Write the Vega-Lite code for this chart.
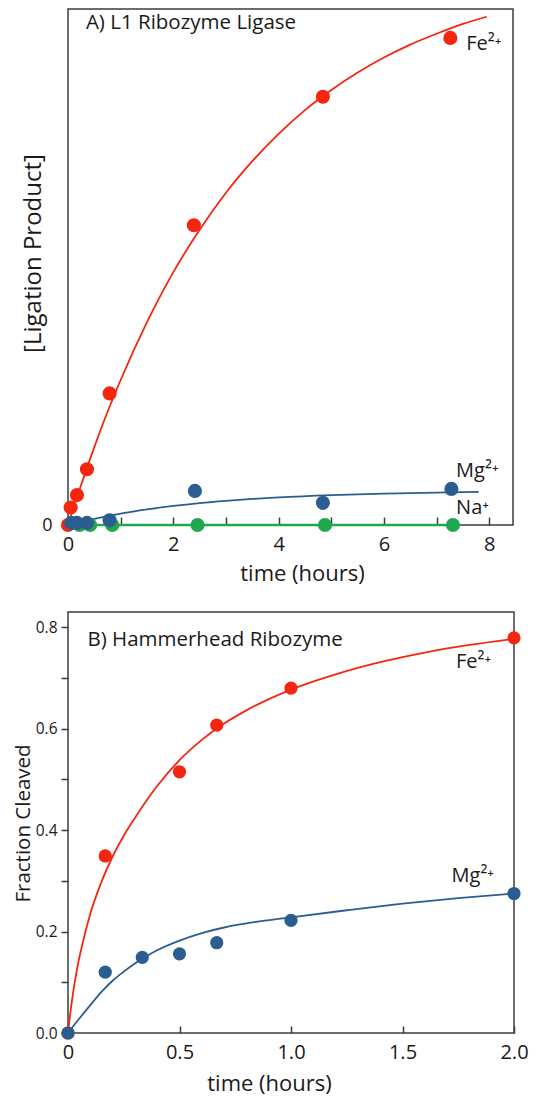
{
  "$schema": "https://vega.github.io/schema/vega-lite/v6.json",
  "padding": {"left": 12, "top": 8, "right": 0, "bottom": 0},
  "bounds": "flush",
  "spacing": 87,
  "datasets": {
    "top_pts": [
      {"t": 0.22, "v": 0, "ion": "Na"}, {"t": 0.42, "v": 0, "ion": "Na"}, {"t": 0.84, "v": 0, "ion": "Na"},
      {"t": 2.46, "v": 0, "ion": "Na"}, {"t": 4.88, "v": 0, "ion": "Na"}, {"t": 7.31, "v": 0, "ion": "Na"},
      {"t": 0, "v": 0, "ion": "Fe"}, {"t": 0.05, "v": 0.034, "ion": "Fe"}, {"t": 0.17, "v": 0.058, "ion": "Fe"},
      {"t": 0.36, "v": 0.108, "ion": "Fe"}, {"t": 0.79, "v": 0.255, "ion": "Fe"}, {"t": 2.39, "v": 0.581, "ion": "Fe"},
      {"t": 4.84, "v": 0.83, "ion": "Fe"}, {"t": 7.26, "v": 0.944, "ion": "Fe"},
      {"t": 0.06, "v": 0.004, "ion": "Mg"}, {"t": 0.17, "v": 0.004, "ion": "Mg"}, {"t": 0.36, "v": 0.004, "ion": "Mg"},
      {"t": 0.79, "v": 0.009, "ion": "Mg"}, {"t": 2.41, "v": 0.066, "ion": "Mg"}, {"t": 4.84, "v": 0.043, "ion": "Mg"},
      {"t": 7.28, "v": 0.07, "ion": "Mg"}
    ],
    "top_fit": [
      {"t": 0, "v": 0, "ion": "Fe"}, {"t": 0.25, "v": 0.078, "ion": "Fe"}, {"t": 0.5, "v": 0.151, "ion": "Fe"},
      {"t": 0.75, "v": 0.219, "ion": "Fe"}, {"t": 1, "v": 0.281, "ion": "Fe"}, {"t": 1.5, "v": 0.393, "ion": "Fe"},
      {"t": 2, "v": 0.49, "ion": "Fe"}, {"t": 2.5, "v": 0.572, "ion": "Fe"}, {"t": 3, "v": 0.644, "ion": "Fe"},
      {"t": 3.5, "v": 0.705, "ion": "Fe"}, {"t": 4, "v": 0.758, "ion": "Fe"}, {"t": 4.5, "v": 0.804, "ion": "Fe"},
      {"t": 5, "v": 0.843, "ion": "Fe"}, {"t": 5.5, "v": 0.877, "ion": "Fe"}, {"t": 6, "v": 0.906, "ion": "Fe"},
      {"t": 6.5, "v": 0.931, "ion": "Fe"}, {"t": 7, "v": 0.952, "ion": "Fe"}, {"t": 7.5, "v": 0.971, "ion": "Fe"},
      {"t": 7.95, "v": 0.985, "ion": "Fe"},
      {"t": 0, "v": 0, "ion": "Mg"}, {"t": 0.25, "v": 0.0064, "ion": "Mg"}, {"t": 0.5, "v": 0.0121, "ion": "Mg"},
      {"t": 1, "v": 0.0221, "ion": "Mg"}, {"t": 1.5, "v": 0.0302, "ion": "Mg"}, {"t": 2, "v": 0.0369, "ion": "Mg"},
      {"t": 2.5, "v": 0.0424, "ion": "Mg"}, {"t": 3, "v": 0.0468, "ion": "Mg"}, {"t": 3.5, "v": 0.0505, "ion": "Mg"},
      {"t": 4, "v": 0.0535, "ion": "Mg"}, {"t": 5, "v": 0.0579, "ion": "Mg"}, {"t": 6, "v": 0.0609, "ion": "Mg"},
      {"t": 7, "v": 0.0629, "ion": "Mg"}, {"t": 7.8, "v": 0.0641, "ion": "Mg"},
      {"t": 0, "v": 0, "ion": "Na"}, {"t": 7.45, "v": 0, "ion": "Na"}
    ],
    "top_lab": [
      {"t": 7.56, "v": 0.932, "label": "Fe²⁺"},
      {"t": 7.37, "v": 0.105, "label": "Mg²⁺"},
      {"t": 7.37, "v": 0.033, "label": "Na⁺"}
    ],
    "top_title": [{"t": 0.34, "v": 0.973, "label": "A) L1 Ribozyme Ligase"}],
    "bot_pts": [
      {"t": 0, "v": 0, "ion": "Fe"}, {"t": 0.167, "v": 0.349, "ion": "Fe"}, {"t": 0.5, "v": 0.515, "ion": "Fe"},
      {"t": 0.667, "v": 0.607, "ion": "Fe"}, {"t": 1.0, "v": 0.68, "ion": "Fe"}, {"t": 2.0, "v": 0.779, "ion": "Fe"},
      {"t": 0, "v": 0, "ion": "Mg"}, {"t": 0.167, "v": 0.12, "ion": "Mg"}, {"t": 0.333, "v": 0.149, "ion": "Mg"},
      {"t": 0.5, "v": 0.156, "ion": "Mg"}, {"t": 0.667, "v": 0.178, "ion": "Mg"}, {"t": 1.0, "v": 0.222, "ion": "Mg"},
      {"t": 2.0, "v": 0.275, "ion": "Mg"}
    ],
    "bot_fit": [
      {"t": 0, "v": 0, "ion": "Fe"}, {"t": 0.015, "v": 0.055, "ion": "Fe"}, {"t": 0.04, "v": 0.125, "ion": "Fe"},
      {"t": 0.07, "v": 0.185, "ion": "Fe"}, {"t": 0.1, "v": 0.235, "ion": "Fe"}, {"t": 0.15, "v": 0.298, "ion": "Fe"},
      {"t": 0.2, "v": 0.348, "ion": "Fe"}, {"t": 0.25, "v": 0.389, "ion": "Fe"}, {"t": 0.3, "v": 0.424, "ion": "Fe"},
      {"t": 0.35, "v": 0.457, "ion": "Fe"}, {"t": 0.4, "v": 0.487, "ion": "Fe"}, {"t": 0.5, "v": 0.538, "ion": "Fe"},
      {"t": 0.6, "v": 0.578, "ion": "Fe"}, {"t": 0.7, "v": 0.61, "ion": "Fe"}, {"t": 0.8, "v": 0.636, "ion": "Fe"},
      {"t": 1.0, "v": 0.677, "ion": "Fe"}, {"t": 1.2, "v": 0.707, "ion": "Fe"}, {"t": 1.4, "v": 0.731, "ion": "Fe"},
      {"t": 1.6, "v": 0.75, "ion": "Fe"}, {"t": 1.8, "v": 0.765, "ion": "Fe"}, {"t": 2.0, "v": 0.777, "ion": "Fe"},
      {"t": 0, "v": 0, "ion": "Mg"}, {"t": 0.05, "v": 0.028, "ion": "Mg"}, {"t": 0.1, "v": 0.055, "ion": "Mg"},
      {"t": 0.15, "v": 0.081, "ion": "Mg"}, {"t": 0.2, "v": 0.103, "ion": "Mg"}, {"t": 0.25, "v": 0.121, "ion": "Mg"},
      {"t": 0.3, "v": 0.137, "ion": "Mg"}, {"t": 0.35, "v": 0.151, "ion": "Mg"}, {"t": 0.4, "v": 0.163, "ion": "Mg"},
      {"t": 0.5, "v": 0.182, "ion": "Mg"}, {"t": 0.6, "v": 0.197, "ion": "Mg"}, {"t": 0.7, "v": 0.208, "ion": "Mg"},
      {"t": 0.8, "v": 0.216, "ion": "Mg"}, {"t": 1.0, "v": 0.228, "ion": "Mg"}, {"t": 1.25, "v": 0.242, "ion": "Mg"},
      {"t": 1.5, "v": 0.255, "ion": "Mg"}, {"t": 1.75, "v": 0.266, "ion": "Mg"}, {"t": 2.0, "v": 0.275, "ion": "Mg"}
    ],
    "bot_lab": [
      {"t": 1.74, "v": 0.732, "label": "Fe²⁺"},
      {"t": 1.72, "v": 0.31, "label": "Mg²⁺"}
    ],
    "bot_title": [{"t": 0.087, "v": 0.775, "label": "B) Hammerhead Ribozyme"}]
  },
  "vconcat": [
    {
      "width": 445,
      "height": 516,
      "encoding": {
        "x": {
          "field": "t", "type": "quantitative",
          "scale": {"domain": [0, 8.45], "nice": false, "zero": false},
          "axis": {
            "title": "time (hours)",
            "values": [0, 1, 2, 3, 4, 5, 6, 7, 8],
            "labelExpr": "datum.value % 2 == 0 ? datum.label : ''",
            "tickSize": -8, "labelPadding": 17, "labelFontSize": 20,
            "titleFontSize": 22, "titleX": 234, "titleY": 48,
            "titleBaseline": "middle", "titleAlign": "center"
          }
        },
        "y": {
          "field": "v", "type": "quantitative",
          "scale": {"domain": [0, 1], "nice": false},
          "axis": {
            "title": "[Ligation Product]",
            "values": [0], "ticks": false, "labelPadding": 16, "labelFontSize": 18,
            "titleFontSize": 24, "titleAngle": -90, "titleX": -35, "titleY": 244,
            "titleBaseline": "middle", "titleAlign": "center"
          }
        }
      },
      "layer": [
        {
          "data": {"name": "top_fit"},
          "transform": [{"filter": "datum.ion == 'Na'"}],
          "mark": {"type": "line", "strokeWidth": 2.6, "color": "#1fa84f"}
        },
        {
          "data": {"name": "top_fit"},
          "transform": [{"filter": "datum.ion != 'Na'"}],
          "mark": {"type": "line", "strokeWidth": 1.8, "interpolate": "monotone"},
          "encoding": {
            "color": {"field": "ion", "type": "nominal", "legend": null,
              "scale": {"domain": ["Fe", "Mg", "Na"], "range": ["#f5260f", "#2b5d91", "#1fa84f"]}}
          }
        },
        {
          "data": {"name": "top_pts"},
          "mark": {"type": "circle", "size": 200, "opacity": 1},
          "encoding": {
            "color": {"field": "ion", "type": "nominal", "legend": null,
              "scale": {"domain": ["Fe", "Mg", "Na"], "range": ["#f5260f", "#2b5d91", "#1fa84f"]}}
          }
        },
        {
          "data": {"name": "top_lab"},
          "mark": {"type": "text", "align": "left", "baseline": "middle", "fontSize": 20, "font": "Open Sans", "color": "#1a1a1a"},
          "encoding": {"text": {"field": "label"}}
        },
        {
          "data": {"name": "top_title"},
          "mark": {"type": "text", "align": "left", "baseline": "middle", "fontSize": 20.5, "font": "Open Sans", "color": "#1a1a1a"},
          "encoding": {"text": {"field": "label"}}
        }
      ]
    },
    {
      "width": 446,
      "height": 421,
      "encoding": {
        "x": {
          "field": "t", "type": "quantitative",
          "scale": {"domain": [0, 2], "nice": false, "zero": false},
          "axis": {
            "title": "time (hours)",
            "values": [0, 0.5, 1, 1.5, 2],
            "labelExpr": "datum.value == 0 ? '0' : format(datum.value, '.1f')",
            "tickSize": -7, "labelPadding": 16, "labelFontSize": 20,
            "titleFontSize": 22, "titleX": 201, "titleY": 50,
            "titleBaseline": "middle", "titleAlign": "center"
          }
        },
        "y": {
          "field": "v", "type": "quantitative",
          "scale": {"domain": [0, 0.83], "nice": false},
          "axis": {
            "title": "Fraction Cleaved",
            "values": [0, 0.1, 0.2, 0.3, 0.4, 0.5, 0.6, 0.7, 0.8],
            "labelExpr": "round(datum.value * 10) % 2 == 0 ? format(datum.value, '.1f') : ''",
            "tickSize": 7, "labelPadding": 4, "labelFontSize": 15.5,
            "titleFontSize": 20.5, "titleAngle": -90, "titleX": -45, "titleY": 211,
            "titleBaseline": "middle", "titleAlign": "center"
          }
        }
      },
      "layer": [
        {
          "data": {"name": "bot_fit"},
          "mark": {"type": "line", "strokeWidth": 1.8, "interpolate": "monotone"},
          "encoding": {
            "color": {"field": "ion", "type": "nominal", "legend": null,
              "scale": {"domain": ["Fe", "Mg"], "range": ["#f5260f", "#2b5d91"]}}
          }
        },
        {
          "data": {"name": "bot_pts"},
          "mark": {"type": "circle", "size": 175, "opacity": 1},
          "encoding": {
            "color": {"field": "ion", "type": "nominal", "legend": null,
              "scale": {"domain": ["Fe", "Mg"], "range": ["#f5260f", "#2b5d91"]}}
          }
        },
        {
          "data": {"name": "bot_lab"},
          "mark": {"type": "text", "align": "left", "baseline": "middle", "fontSize": 20, "font": "Open Sans", "color": "#1a1a1a"},
          "encoding": {"text": {"field": "label"}}
        },
        {
          "data": {"name": "bot_title"},
          "mark": {"type": "text", "align": "left", "baseline": "middle", "fontSize": 20.5, "font": "Open Sans", "color": "#1a1a1a"},
          "encoding": {"text": {"field": "label"}}
        }
      ]
    }
  ],
  "config": {
    "view": {"stroke": "#3c3c3c", "strokeWidth": 1.5},
    "font": "Open Sans",
    "axis": {
      "grid": false, "domain": false,
      "labelFont": "Open Sans", "titleFont": "Open Sans", "titleFontWeight": "normal",
      "labelColor": "#1a1a1a", "titleColor": "#1a1a1a",
      "tickColor": "#3c3c3c", "tickWidth": 1.5,
      "labelOverlap": false, "labelFlush": false
    }
  }
}
